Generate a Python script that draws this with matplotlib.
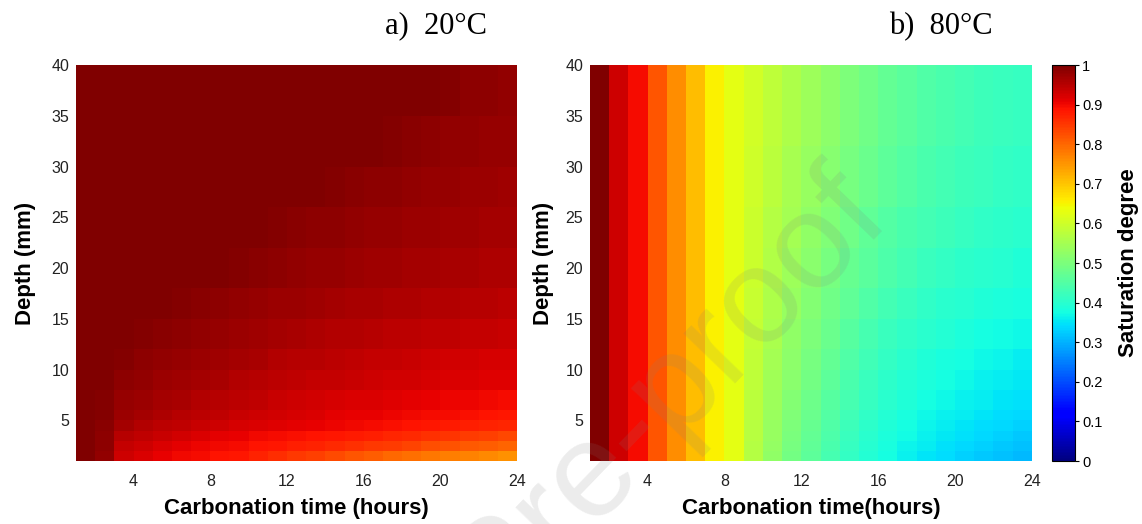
import numpy as np
import matplotlib.pyplot as plt

# cell edges: carbonation time (hours) and depth (mm)
time_edges = list(range(1, 25))
depth_edges_20 = [1, 2, 3, 4, 5, 6, 8, 10, 12, 15, 18, 22, 26, 30, 35, 40]

# saturation degree at 20 C, one row per depth band (1 mm at the surface -> 40 mm)
sat_20 = [
    [1.000, 0.982, 0.930, 0.918, 0.908, 0.902, 0.896, 0.890, 0.884, 0.872, 0.860, 0.850, 0.840, 0.830, 0.820, 0.810, 0.800, 0.792, 0.785, 0.777, 0.770, 0.762, 0.755],
    [1.000, 0.985, 0.940, 0.930, 0.920, 0.913, 0.906, 0.900, 0.895, 0.890, 0.884, 0.878, 0.872, 0.865, 0.858, 0.851, 0.844, 0.836, 0.828, 0.822, 0.816, 0.810, 0.804],
    [1.000, 0.988, 0.952, 0.942, 0.934, 0.927, 0.920, 0.914, 0.908, 0.902, 0.897, 0.893, 0.890, 0.886, 0.881, 0.876, 0.871, 0.865, 0.858, 0.852, 0.846, 0.840, 0.834],
    [1.000, 0.990, 0.965, 0.957, 0.949, 0.942, 0.936, 0.930, 0.925, 0.920, 0.915, 0.911, 0.907, 0.903, 0.899, 0.896, 0.893, 0.889, 0.885, 0.881, 0.877, 0.873, 0.868],
    [1.000, 0.993, 0.974, 0.965, 0.958, 0.952, 0.947, 0.942, 0.937, 0.932, 0.927, 0.922, 0.918, 0.914, 0.910, 0.907, 0.904, 0.901, 0.898, 0.895, 0.892, 0.889, 0.886],
    [1.000, 0.995, 0.980, 0.973, 0.967, 0.962, 0.957, 0.952, 0.947, 0.942, 0.937, 0.933, 0.929, 0.925, 0.921, 0.918, 0.915, 0.912, 0.909, 0.906, 0.903, 0.900, 0.898],
    [1.000, 0.997, 0.987, 0.981, 0.976, 0.971, 0.966, 0.961, 0.957, 0.953, 0.949, 0.945, 0.941, 0.938, 0.935, 0.932, 0.929, 0.926, 0.923, 0.921, 0.919, 0.917, 0.915],
    [1.000, 1.000, 0.993, 0.987, 0.982, 0.977, 0.973, 0.969, 0.965, 0.961, 0.957, 0.953, 0.950, 0.947, 0.944, 0.941, 0.938, 0.935, 0.932, 0.929, 0.927, 0.925, 0.923],
    [1.000, 1.000, 1.000, 0.995, 0.990, 0.985, 0.981, 0.977, 0.973, 0.970, 0.966, 0.963, 0.960, 0.957, 0.954, 0.951, 0.948, 0.946, 0.944, 0.942, 0.940, 0.938, 0.936],
    [1.000, 1.000, 1.000, 1.000, 1.000, 0.995, 0.990, 0.986, 0.982, 0.979, 0.976, 0.973, 0.970, 0.967, 0.964, 0.962, 0.960, 0.958, 0.956, 0.954, 0.952, 0.950, 0.948],
    [1.000, 1.000, 1.000, 1.000, 1.000, 1.000, 1.000, 1.000, 0.993, 0.989, 0.986, 0.983, 0.980, 0.977, 0.975, 0.972, 0.970, 0.968, 0.966, 0.964, 0.962, 0.960, 0.958],
    [1.000, 1.000, 1.000, 1.000, 1.000, 1.000, 1.000, 1.000, 1.000, 1.000, 0.996, 0.991, 0.988, 0.985, 0.982, 0.980, 0.978, 0.976, 0.974, 0.972, 0.970, 0.968, 0.966],
    [1.000, 1.000, 1.000, 1.000, 1.000, 1.000, 1.000, 1.000, 1.000, 1.000, 1.000, 1.000, 1.000, 0.995, 0.990, 0.987, 0.985, 0.982, 0.980, 0.978, 0.976, 0.974, 0.972],
    [1.000, 1.000, 1.000, 1.000, 1.000, 1.000, 1.000, 1.000, 1.000, 1.000, 1.000, 1.000, 1.000, 1.000, 1.000, 1.000, 0.995, 0.990, 0.986, 0.983, 0.981, 0.979, 0.977],
    [1.000, 1.000, 1.000, 1.000, 1.000, 1.000, 1.000, 1.000, 1.000, 1.000, 1.000, 1.000, 1.000, 1.000, 1.000, 1.000, 1.000, 1.000, 1.000, 0.994, 0.988, 0.985, 0.983],
]

depth_edges_80 = [1, 2, 3, 4, 5, 6, 8, 10, 12, 15, 18, 22, 26, 32, 40]

# saturation degree at 80 C, rows from 1 mm to 40 mm
sat_80 = [
    [1.00, 0.93, 0.895, 0.82, 0.76, 0.71, 0.655, 0.625, 0.567, 0.526, 0.492, 0.462, 0.435, 0.412, 0.393, 0.377, 0.363, 0.351, 0.341, 0.332, 0.323, 0.314, 0.305],
    [1.00, 0.93, 0.895, 0.82, 0.76, 0.71, 0.655, 0.625, 0.569, 0.529, 0.495, 0.465, 0.439, 0.416, 0.397, 0.381, 0.367, 0.356, 0.346, 0.338, 0.330, 0.322, 0.315],
    [1.00, 0.93, 0.895, 0.82, 0.76, 0.71, 0.655, 0.625, 0.571, 0.532, 0.499, 0.469, 0.443, 0.420, 0.401, 0.385, 0.372, 0.361, 0.352, 0.344, 0.337, 0.330, 0.324],
    [1.00, 0.93, 0.895, 0.82, 0.76, 0.71, 0.655, 0.625, 0.573, 0.535, 0.502, 0.473, 0.447, 0.424, 0.405, 0.389, 0.376, 0.366, 0.358, 0.350, 0.343, 0.337, 0.331],
    [1.00, 0.93, 0.895, 0.82, 0.76, 0.71, 0.655, 0.625, 0.575, 0.538, 0.506, 0.477, 0.451, 0.428, 0.409, 0.393, 0.381, 0.371, 0.363, 0.356, 0.349, 0.343, 0.338],
    [1.00, 0.93, 0.895, 0.82, 0.76, 0.71, 0.655, 0.625, 0.578, 0.542, 0.511, 0.483, 0.457, 0.434, 0.415, 0.399, 0.387, 0.377, 0.369, 0.362, 0.356, 0.350, 0.345],
    [1.00, 0.93, 0.895, 0.82, 0.76, 0.71, 0.655, 0.625, 0.581, 0.546, 0.516, 0.489, 0.463, 0.440, 0.421, 0.405, 0.393, 0.383, 0.375, 0.368, 0.362, 0.357, 0.352],
    [1.00, 0.93, 0.895, 0.82, 0.76, 0.71, 0.655, 0.625, 0.584, 0.550, 0.521, 0.495, 0.470, 0.447, 0.428, 0.412, 0.400, 0.390, 0.382, 0.375, 0.369, 0.364, 0.359],
    [1.00, 0.93, 0.895, 0.82, 0.76, 0.71, 0.655, 0.625, 0.587, 0.555, 0.527, 0.502, 0.478, 0.456, 0.437, 0.421, 0.409, 0.399, 0.391, 0.384, 0.378, 0.373, 0.368],
    [1.00, 0.93, 0.895, 0.82, 0.76, 0.71, 0.655, 0.625, 0.590, 0.560, 0.534, 0.510, 0.487, 0.466, 0.448, 0.432, 0.420, 0.410, 0.402, 0.395, 0.389, 0.384, 0.379],
    [1.00, 0.93, 0.895, 0.82, 0.76, 0.71, 0.655, 0.625, 0.594, 0.565, 0.540, 0.518, 0.496, 0.476, 0.458, 0.443, 0.431, 0.421, 0.413, 0.406, 0.400, 0.395, 0.390],
    [1.00, 0.93, 0.895, 0.82, 0.76, 0.71, 0.655, 0.625, 0.597, 0.570, 0.547, 0.525, 0.505, 0.485, 0.468, 0.453, 0.441, 0.431, 0.423, 0.416, 0.410, 0.405, 0.400],
    [1.00, 0.93, 0.895, 0.82, 0.76, 0.71, 0.655, 0.625, 0.600, 0.575, 0.553, 0.532, 0.512, 0.493, 0.477, 0.462, 0.450, 0.440, 0.432, 0.424, 0.418, 0.413, 0.408],
    [1.00, 0.93, 0.895, 0.82, 0.76, 0.71, 0.655, 0.625, 0.605, 0.580, 0.560, 0.540, 0.520, 0.500, 0.485, 0.470, 0.458, 0.448, 0.440, 0.432, 0.425, 0.420, 0.415],
]

time_ticks = [4, 8, 12, 16, 20, 24]
depth_ticks = [5, 10, 15, 20, 25, 30, 35, 40]
cbar_ticks = [0, 0.1, 0.2, 0.3, 0.4, 0.5, 0.6, 0.7, 0.8, 0.9, 1]
cbar_labels = ['0', '0.1', '0.2', '0.3', '0.4', '0.5', '0.6', '0.7', '0.8', '0.9', '1']

plt.rcParams['font.family'] = 'Liberation Sans'

fig = plt.figure(figsize=(11.42, 5.24), dpi=100)
ax1 = fig.add_axes([0.0666, 0.1202, 0.3862, 0.7557])
ax2 = fig.add_axes([0.5166, 0.1202, 0.3870, 0.7557])
cax = fig.add_axes([0.9212, 0.1202, 0.0201, 0.7557])

m1 = ax1.pcolormesh(time_edges, depth_edges_20, np.array(sat_20), cmap='jet',
                    vmin=0, vmax=1, shading='flat', antialiased=False)
m2 = ax2.pcolormesh(time_edges, depth_edges_80, np.array(sat_80), cmap='jet',
                    vmin=0, vmax=1, shading='flat', antialiased=False)

for ax in (ax1, ax2):
    ax.set_xlim(1, 24)
    ax.set_ylim(1, 40)
    ax.set_xticks(time_ticks)
    ax.set_yticks(depth_ticks)
    ax.tick_params(length=0, labelsize=11.5, colors='#222222')
    ax.tick_params(axis='x', pad=9)
    ax.tick_params(axis='y', pad=5)
    for s in ax.spines.values():
        s.set_visible(False)
    ax.set_ylabel('Depth (mm)', fontsize=16, fontweight='bold')

ax1.set_xlabel('Carbonation time (hours)', fontsize=16, fontweight='bold')
ax2.set_xlabel('Carbonation time(hours)', fontsize=16, fontweight='bold')
ax1.xaxis.set_label_coords(0.5, -0.093)
ax2.xaxis.set_label_coords(0.5, -0.093)
ax1.yaxis.set_label_coords(-0.091, 0.5)
ax2.yaxis.set_label_coords(-0.081, 0.5)

cb = fig.colorbar(m2, cax=cax, ticks=cbar_ticks)
cb.ax.set_yticklabels(cbar_labels)
cb.ax.tick_params(labelsize=10.5, length=3, width=0.8, pad=2)
cb.outline.set_linewidth(0.8)
cb.set_label('Saturation degree', fontsize=16, fontweight='bold')
cb.ax.yaxis.set_label_coords(2.87, 0.5)

fig.text(0.382, 0.950, 'a)  20\u00b0C', family='Liberation Serif', fontsize=22,
         ha='center', va='center')
fig.text(0.824, 0.950, 'b)  80\u00b0C', family='Liberation Serif', fontsize=22,
         ha='center', va='center')

# journal watermark
fig.text(0.782, 0.578, 'Journal Pre-proof', fontsize=98, color='0.5', alpha=0.15,
         rotation=46, rotation_mode='anchor', ha='right', va='baseline', zorder=10)

fig.savefig('out.png', dpi=100)
